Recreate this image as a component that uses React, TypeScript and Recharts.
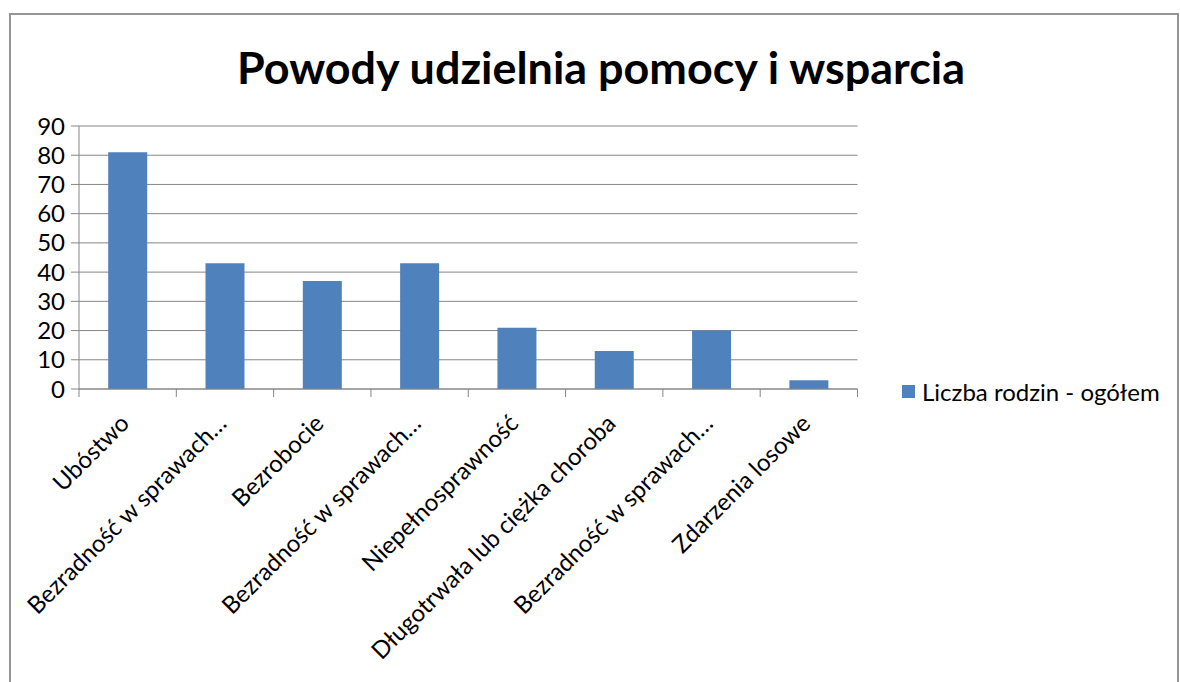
import { Bar, BarChart, CartesianGrid, Legend, XAxis, YAxis } from 'recharts'

const categories = [
  'Ubóstwo',
  'Bezradność w sprawach…',
  'Bezrobocie',
  'Bezradność w sprawach…',
  'Niepełnosprawność',
  'Długotrwała lub ciężka choroba',
  'Bezradność w sprawach…',
  'Zdarzenia losowe',
]
const liczbaRodzin = [81, 43, 37, 43, 21, 13, 20, 3]
const yTicks = [0, 10, 20, 30, 40, 50, 60, 70, 80, 90]
const seriesName = 'Liczba rodzin - ogółem'
const title = 'Powody udzielnia pomocy i wsparcia'

const data = categories.map((name, i) => ({ name, value: liczbaRodzin[i] }))

const FONT = 'Lato, "Open Sans", sans-serif'
const AXIS = '#868686'
const BAR = '#4F81BD'

const PLOT_LEFT = 79
const PLOT_RIGHT = 857.5
const STEP = (PLOT_RIGHT - PLOT_LEFT) / categories.length

function CategoryTick(props: any) {
  const { x, y, payload, index } = props
  const left = x - STEP / 2
  // anchor of the rotated label sits a little right of and below the category centre
  const tx = x + 3
  const ty = y + 28
  return (
    <g>
      <line x1={left} y1={y - 8} x2={left} y2={y} stroke={AXIS} />
      {index === categories.length - 1 && (
        <line x1={x + STEP / 2} y1={y - 8} x2={x + STEP / 2} y2={y} stroke={AXIS} />
      )}
      <text
        x={tx}
        y={ty}
        transform={`rotate(-45, ${tx}, ${ty})`}
        textAnchor='end'
        fontSize={24}
        fontFamily={FONT}
        fill='#000'
      >
        {payload.value}
      </text>
    </g>
  )
}

function LegendBox() {
  return (
    <div style={{ display: 'flex', alignItems: 'center', fontFamily: FONT, fontSize: 24 }}>
      <span style={{ width: 13, height: 13, background: BAR, marginRight: 7, display: 'inline-block' }} />
      <span>{seriesName}</span>
    </div>
  )
}

export default function App() {
  return (
    <div style={{ position: 'absolute', left: 0, top: 0, width: 1180, height: 682, overflow: 'hidden' }}>
      <div
        style={{
          position: 'absolute',
          left: 9,
          top: 13,
          width: 1166,
          height: 720,
          border: '2px solid #959595',
        }}
      />
      <svg style={{ position: 'absolute', left: 0, top: 0 }} width={1180} height={120}>
        <text
          x={601}
          y={84}
          textAnchor='middle'
          fontFamily={FONT}
          fontWeight={700}
          fontSize={44}
          textLength={728}
          lengthAdjust='spacingAndGlyphs'
        >
          {title}
        </text>
      </svg>
      <div style={{ position: 'absolute', left: 0, top: 0 }}>
        <BarChart
          width={1180}
          height={682}
          data={data}
          margin={{ top: 126, right: 1180 - PLOT_RIGHT, bottom: 43, left: 19 }}
          barCategoryGap='30%'
        >
          <CartesianGrid vertical={false} stroke={AXIS} strokeOpacity={1} />
          <YAxis
            width={60}
            domain={[0, 90]}
            ticks={yTicks}
            interval={0}
            tickSize={8}
            tickMargin={6}
            axisLine={{ stroke: AXIS }}
            tickLine={{ stroke: AXIS }}
            tick={{ fill: '#000', fontSize: 24, fontFamily: FONT }}
          />
          <XAxis
            dataKey='name'
            height={250}
            interval={0}
            axisLine={{ stroke: AXIS }}
            tickLine={false}
            tick={<CategoryTick />}
          />
          <Legend
            layout='horizontal'
            verticalAlign='middle'
            align='center'
            content={<LegendBox />}
            wrapperStyle={{ position: 'absolute', left: 902, top: 377, width: 280, bottom: 'auto', right: 'auto' }}
          />
          <Bar dataKey='value' name={seriesName} fill={BAR} isAnimationActive={false} />
        </BarChart>
      </div>
    </div>
  )
}
